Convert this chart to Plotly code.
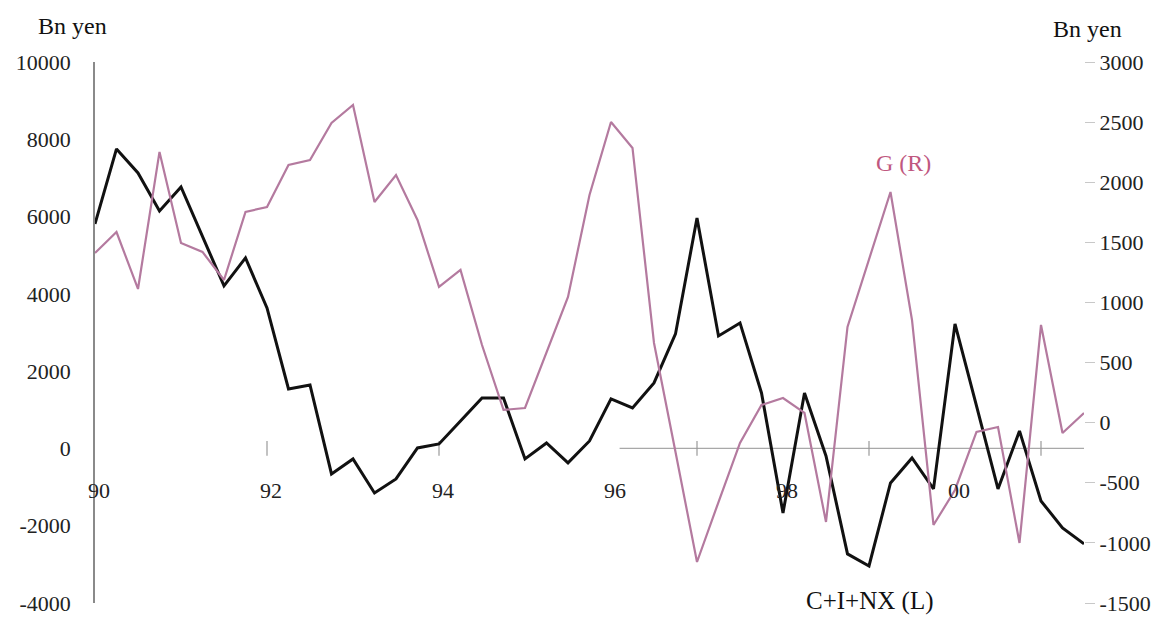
import plotly.graph_objects as go

# Quarterly data, 1990Q1 - 2001Q3
start_year = 1990
n_q = 47
quarters = [start_year + i * 0.25 for i in range(n_q)]

# C+I+NX (left axis, Bn yen)
cinx = [5810, 7751, 7130, 6146, 6768, 5500, 4205, 4930, 3636, 1540,
        1643, -660, -272, -1152, -789, 13, 116, 712, 1307, 1307,
        -272, 142, -375, 194, 1281, 1048, 1695, 2963, 5965, 2911,
        3248, 1436, -1669, 1436, -194, -2730, -3041, -893, -246, -1048,
        3222, 1100, -1048, 453, -1359, -2057, -2471]

# G (right axis, Bn yen)
gov = [1412, 1586, 1112, 2252, 1495, 1420, 1187, 1753, 1794, 2144,
       2185, 2493, 2643, 1836, 2060, 1686, 1129, 1270, 646, 106,
       122, 588, 1046, 1894, 2501, 2285, 663, -244, -1159, -660,
       -169, 147, 205, 81, -826, 796, 1353, 1919, 854, -851,
       -560, -77, -36, -1001, 813, -86, 81]

left_ticks = [10000, 8000, 6000, 4000, 2000, 0, -2000, -4000]
left_tick_text = ["10000", "8000", "6000", "4000", "2000", "0", "-2000", "-4000"]
right_ticks = [3000, 2500, 2000, 1500, 1000, 500, 0, -500, -1000, -1500]
right_tick_text = ["3000", "2500", "2000", "1500", "1000", "500", "0", "-500", "-1000", "-1500"]
year_label_pos = [1990, 1992, 1994, 1996, 1998, 2000]
year_labels = ["90", "92", "94", "96", "98", "00"]
zero_tick_years = [1992, 1994, 1997, 1999, 2001]

FONT = "Liberation Serif, Times New Roman, serif"
PINK = "#b47a9f"

fig = go.Figure()
fig.add_trace(go.Scatter(x=quarters, y=gov, mode="lines", yaxis="y2",
                         line=dict(color=PINK, width=2.2), name="G (R)"))
fig.add_trace(go.Scatter(x=quarters, y=cinx, mode="lines", yaxis="y",
                         line=dict(color="#111111", width=3), name="C+I+NX (L)"))

# partial zero line and small tick marks as seen in the reference
fig.add_shape(type="line", xref="x", yref="y", x0=1996.1, x1=2001.55, y0=0, y1=0,
              line=dict(color="#a8a8a8", width=1.3), layer="below")
for ty in zero_tick_years:
    fig.add_shape(type="line", xref="x", yref="y", x0=ty, x1=ty, y0=-190, y1=190,
                  line=dict(color="#999999", width=1.2), layer="below")

for xv, lab in zip(year_label_pos, year_labels):
    fig.add_annotation(x=xv, y=-1100, xref="x", yref="y", text=lab, showarrow=False,
                       xshift=4, font=dict(family=FONT, size=22, color="#222"))

fig.add_annotation(x=1999.4, y=2160, xref="x", yref="y2", text="G (R)", showarrow=False,
                   font=dict(family=FONT, size=24, color="#c0587f"))
fig.add_annotation(x=1999.0, y=-3947, xref="x", yref="y", text="C+I+NX (L)", showarrow=False,
                   font=dict(family=FONT, size=25, color="#111"))
fig.add_annotation(x=-0.023, y=1.066, xref="paper", yref="paper", text="Bn yen", showarrow=False,
                   xanchor="center", yanchor="middle",
                   font=dict(family=FONT, size=24, color="#111"))
fig.add_annotation(x=1.004, y=1.061, xref="paper", yref="paper", text="Bn yen", showarrow=False,
                   xanchor="center", yanchor="middle",
                   font=dict(family=FONT, size=24, color="#111"))

fig.update_layout(
    width=1160, height=609,
    margin=dict(l=87, r=84, t=54, b=14, autoexpand=False),
    paper_bgcolor="white", plot_bgcolor="white",
    showlegend=False,
    xaxis=dict(range=[1990, 2001.5], visible=False, showgrid=False, zeroline=False,
               automargin=False),
    yaxis=dict(range=[-4000, 10000], tickvals=left_ticks, ticktext=left_tick_text,
               showgrid=False, zeroline=False, showline=True, linecolor="#8a8a8a", linewidth=1.5,
               ticks="outside", ticklen=18, tickcolor="rgba(0,0,0,0)", automargin=False,
               tickfont=dict(family=FONT, size=22, color="#222")),
    yaxis2=dict(range=[-1500, 3000], overlaying="y", side="right",
                tickvals=right_ticks, ticktext=right_tick_text,
                showgrid=False, zeroline=False, showline=False, automargin=False,
                ticks="outside", ticklen=10, tickcolor="#c8c8c8",
                tickfont=dict(family=FONT, size=22, color="#222")),
)

fig.write_html("out.html")
